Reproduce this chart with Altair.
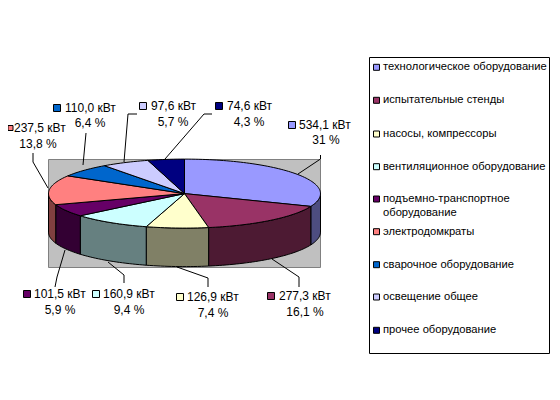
import math
import altair as alt
import pandas as pd

categories = ["технологическое оборудование", "испытательные стенды", "насосы, компрессоры",
              "вентиляционное оборудование", "подъемно-транспортное\nоборудование", "электродомкраты",
              "сварочное оборудование", "освещение общее", "прочее оборудование"]
power = [534.1, 277.3, 126.9, 160.9, 101.5, 237.5, 110.0, 97.6, 74.6]
power_text = ["534,1 кВт", "277,3 кВт", "126,9 кВт", "160,9 кВт", "101,5 кВт", "237,5 кВт", "110,0 кВт", "97,6 кВт", "74,6 кВт"]
share_text = ["31 %", "16,1 %", "7,4 %", "9,4 %", "5,9 %", "13,8 %", "6,4 %", "5,7 %", "4,3 %"]

top_colors = ["#9999FF", "#993366", "#FFFFCC", "#CCFFFF", "#660066", "#FF8080", "#0066CC", "#CCCCFF", "#000080"]
side_colors = ["#4D4D80", "#4D1A33", "#808066", "#668080", "#330033", "#804040", "#003366", "#666680", "#000040"]

# layout (page pixels)
CX, CY, RX, RY, DEPTH = 184.5, 193.6, 136.0, 34.5, 38.5
label_swatch_x = [292, 271, 180, 96, 27, 10.5, 57, 143, 219]
label_swatch_y = [125, 296, 297, 294, 294, 128, 108, 106, 106]
label_swatch_size = [49, 49, 49, 49, 49, 25, 49, 49, 49]
label_text_x = [299, 279, 187, 103, 34, 14, 65, 151, 227]
share_x = [326, 305, 213, 129, 60, 38, 90, 173, 249]
share_y = [140, 312, 313, 310, 310, 144, 123, 122, 122]
leaders = [
    [(320.5, 155), (320.5, 159), (298, 174)],
    [(299, 287), (299, 277), (272, 259)],
    [(208, 287), (208, 278), (177, 267)],
    [(124, 283), (124, 275), (108, 262)],
    [(55, 287), (57, 277), (65, 250)],
    [(33, 153), (33, 162), (48, 188)],
    [(86, 133), (83, 165)],
    [(137, 114), (128, 114), (124, 162)],
    [(212, 114), (204, 114), (165, 159)],
]
legend_y = [67.3, 100.3, 134, 166.7, 199, 231.7, 264.7, 297, 330.3]

xs = alt.Scale(domain=[8, 552], range=[0, 544], nice=False, zero=False)
ys = alt.Scale(domain=[8, 392], range=[0, 384], nice=False, zero=False)
X = alt.X("x:Q", scale=xs, axis=None)
Y = alt.Y("y:Q", scale=ys, axis=None)


def ell(t, dy=0.0):
    r = math.radians(t)
    return CX + RX * math.sin(r), CY - RY * math.cos(r) + dy


def steps(a, b):
    n = max(2, int((b - a) / 1.5))
    return [a + (b - a) * i / n for i in range(n + 1)]


total = sum(power)
tops, walls = [], []
cum = 0.0
for i, v in enumerate(power):
    a = cum / total * 360
    cum += v
    b = cum / total * 360
    pts = [(CX, CY)] + [ell(t) for t in steps(a, b)] + [(CX, CY)]
    tops += [dict(s=i, o=k, x=p[0], y=p[1]) for k, p in enumerate(pts)]
    lo, hi = max(a, 90), min(b, 270)
    if lo < hi:
        arc = steps(lo, hi)
        pts = [ell(t) for t in arc] + [ell(t, DEPTH) for t in reversed(arc)]
        pts.append(pts[0])
        walls += [dict(s=i, o=k, x=p[0], y=p[1]) for k, p in enumerate(pts)]


def polys(rows, colors):
    return alt.Chart(pd.DataFrame(rows)).mark_line(stroke="black", strokeWidth=1, interpolate="linear").encode(
        x=X, y=Y, order="o:Q", detail="s:N",
        fill=alt.Fill("s:N", scale=alt.Scale(domain=list(range(9)), range=colors), legend=None),
    )


plot_bg = alt.Chart(pd.DataFrame([dict(x=48.5, x2=320.5, y=159.5, y2=267.5)])).mark_rect(
    fill="#C0C0C0", stroke="#808080", strokeWidth=1).encode(x=X, x2="x2:Q", y=Y, y2="y2:Q")

legend_box = alt.Chart(pd.DataFrame([dict(x=369.5, x2=549.5, y=57.5, y2=353.5)])).mark_rect(
    fill="white", stroke="black", strokeWidth=1).encode(x=X, x2="x2:Q", y=Y, y2="y2:Q")

leader_rows = [dict(s=i, o=k, x=p[0], y=p[1]) for i, l in enumerate(leaders) for k, p in enumerate(l)]
leader_layer = alt.Chart(pd.DataFrame(leader_rows)).mark_line(stroke="black", strokeWidth=1).encode(
    x=X, y=Y, order="o:Q", detail="s:N")

FONT = "Liberation Sans"
cat_domain = list(range(9))
color_scale = alt.Scale(domain=cat_domain, range=top_colors)

lab = pd.DataFrame(dict(s=cat_domain, sx=label_swatch_x, sy=label_swatch_y, ss=label_swatch_size, tx=label_text_x,
                        px=share_x, py=share_y, power=power_text, share=share_text))
swatch = alt.Chart(lab).mark_square(stroke="black", strokeWidth=1, opacity=1).encode(
    x=alt.X("sx:Q", scale=xs, axis=None), y=alt.Y("sy:Q", scale=ys, axis=None),
    size=alt.Size("ss:Q", scale=None, legend=None),
    fill=alt.Fill("s:N", scale=color_scale, legend=None))
power_lab = alt.Chart(lab).mark_text(font=FONT, fontSize=12, align="left", baseline="middle", color="black").encode(
    x=alt.X("tx:Q", scale=xs, axis=None), y=alt.Y("sy:Q", scale=ys, axis=None), text="power:N")
share_lab = alt.Chart(lab).mark_text(font=FONT, fontSize=12, align="center", baseline="middle", color="black").encode(
    x=alt.X("px:Q", scale=xs, axis=None), y=alt.Y("py:Q", scale=ys, axis=None), text="share:N")

leg = pd.DataFrame(dict(s=cat_domain, name=categories, x=[376.5] * 9, tx=[383] * 9, y=legend_y))
leg["ty"] = leg["y"] - 6
leg_sw = alt.Chart(leg).mark_square(size=36, stroke="black", strokeWidth=1, opacity=1).encode(
    x=X, y=Y, fill=alt.Fill("s:N", scale=color_scale, legend=None))
leg_txt = alt.Chart(leg).mark_text(font=FONT, fontSize=11.2, align="left", baseline="top", lineBreak="\n",
                                   lineHeight=14, color="black").encode(
    x=alt.X("tx:Q", scale=xs, axis=None), y=alt.Y("ty:Q", scale=ys, axis=None), text="name:N")

chart = alt.layer(
    plot_bg, polys(walls, side_colors), polys(tops, top_colors), leader_layer,
    swatch, power_lab, share_lab, legend_box, leg_sw, leg_txt,
).resolve_scale(fill="independent").properties(
    width=544, height=384, padding=0, background="white",
    autosize=alt.AutoSizeParams(type="none"),
).configure_view(strokeWidth=0)

chart.save("out.html", embed_options={"renderer": "svg", "actions": False})
